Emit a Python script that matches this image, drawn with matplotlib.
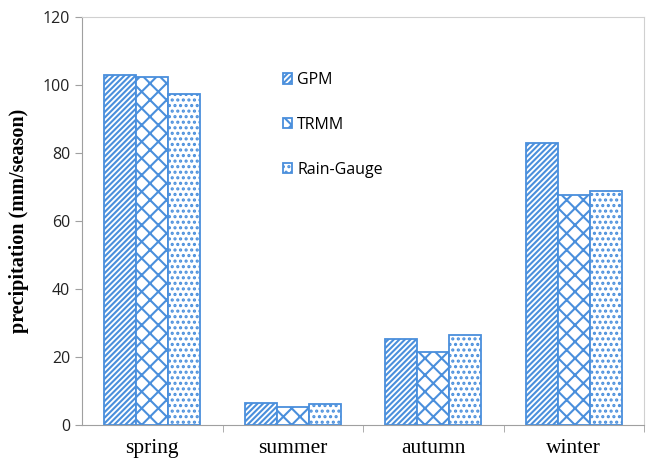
import numpy as np
import matplotlib.pyplot as plt

seasons = ["spring", "summer", "autumn", "winter"]
gpm = [102.9, 6.5, 25.3, 83.0]
trmm = [102.4, 5.3, 21.5, 67.6]
rain_gauge = [97.3, 6.2, 26.4, 69.0]

blue = "#4a8fdc"
plt.rcParams["hatch.linewidth"] = 1.5

fig = plt.figure(figsize=(6.46, 4.65), dpi=100)
ax = fig.add_axes([0.127, 0.086, 0.870, 0.877])

x = np.arange(len(seasons))
w = 0.227
series = [(gpm, "GPM", "//////"), (trmm, "TRMM", "xx"), (rain_gauge, "Rain-Gauge", "...")]
for i, (vals, name, hatch) in enumerate(series):
    ax.bar(x + (i - 1) * w, vals, w, facecolor="white", edgecolor=blue,
           hatch=hatch, linewidth=1.3, label=name)

ax.set_ylim(0, 120)
ax.set_xlim(-0.5, 3.5)
ax.set_yticks(np.arange(0, 121, 20))
ax.set_yticklabels([str(v) for v in range(0, 121, 20)], family="Open Sans", fontsize=11.5, color="#222222")

ax.set_xticks(x)
ax.set_xticklabels(seasons, family="Liberation Serif", fontsize=15.5)
ax.tick_params(axis="x", length=0, pad=10)
ax.set_xticks([0.5, 1.5, 2.5, 3.5], minor=True)
ax.tick_params(axis="x", which="minor", length=5, color="#a0a0a0")
ax.tick_params(axis="y", length=5, color="#a0a0a0", direction="out")

for s in ["top", "right"]:
    ax.spines[s].set_color("#d0d0d0")
for s in ["left", "bottom"]:
    ax.spines[s].set_color("#a0a0a0")

ax.set_ylabel("precipitation (mm/season)", family="Liberation Serif",
              fontweight="bold", fontsize=14.5, labelpad=10)

leg = ax.legend(loc="upper left", bbox_to_anchor=(0.343, 0.885), frameon=False,
                prop={"family": "Open Sans", "size": 11.5}, labelspacing=1.8,
                handlelength=0.6, handleheight=0.6, handletextpad=0.3, borderpad=0)

fig.savefig("out.png", dpi=100)
